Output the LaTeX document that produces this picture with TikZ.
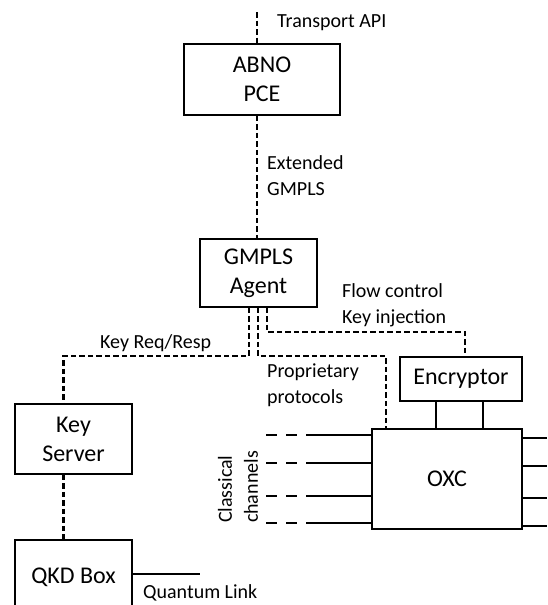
\documentclass[tikz,border=0pt]{standalone}
\usepackage{fontspec}
\setmainfont{Carlito}
\begin{document}
\begin{tikzpicture}[x=1pt,y=-1pt,
  box/.style={draw=black,line width=1.6pt,inner sep=0pt,align=center,
    font=\fontsize{24}{29}\selectfont},
  lbl/.style={inner sep=0pt,align=left,font=\fontsize{20}{26}\selectfont},
  dsh/.style={line width=2.7pt,dash pattern=on 5.5pt off 3pt},
  chd/.style={line width=2.7pt,dash pattern=on 11pt off 9pt},
  sol/.style={line width=2.7pt}]
\clip (0,0) rectangle (547,605);
\fill[white] (0,0) rectangle (547,605);
% boxes
\node[box,minimum width=156pt,minimum height=71pt] (abno) at (262,79.5) {ABNO\\PCE};
\node[box,minimum width=117pt,minimum height=68pt] (agent) at (258.5,273) {GMPLS\\Agent};
\node[box,minimum width=117pt,minimum height=70pt] (ks) at (73.5,439) {Key\\Server};
\node[box,minimum width=117pt,minimum height=75pt] (qkd) at (73.5,577.5) {QKD Box};
\node[box,minimum width=122pt,minimum height=44pt] (enc) at (461,379) {Encryptor};
\node[box,minimum width=150pt,minimum height=100pt] (oxc) at (447,479) {OXC};
% labels
\node[lbl,anchor=west] (tapi) at (277,23) {Transport API};
\node[lbl,anchor=west] (ext) at (267,175.5) {Extended\\GMPLS};
\node[lbl,anchor=west] (flow) at (342,305) {Flow control\\Key injection};
\node[lbl,anchor=west] (kreq) at (100,343) {Key Req/Resp};
\node[lbl,anchor=west] (prop) at (267,385.5) {Proprietary\\protocols};
\node[lbl,rotate=90] (cls) at (238,487) {Classical\\channels};
\node[lbl,anchor=west] (qlink) at (143,593) {Quantum Link};
% coordinates
\coordinate (top) at (257,12);
\coordinate (kr) at (63.5,356);
\coordinate (pp) at (386,356);
\coordinate (fk) at (465,332);
\coordinate (ql) at (200,574);
% dashed control links
\draw[dsh] (top) -- (top |- abno.north);
\draw[dsh] ([xshift=-1.5pt]agent.north |- abno.south) -- ([xshift=-1.5pt]agent.north);
\draw[dsh] ([xshift=-9.5pt]agent.south) |- (kr) -- (kr |- ks.north);
\draw[dsh] ([xshift=-0.5pt]agent.south) |- (pp) -- (pp |- oxc.north);
\draw[dsh] ([xshift=8.5pt]agent.south) |- (fk) -- (fk |- enc.north);
\draw[dsh] (kr |- ks.south) -- (kr |- qkd.north);
% encryptor to OXC
\draw[sol] ([xshift=-25pt]enc.south) -- ([xshift=-25pt]enc.south |- oxc.north);
\draw[sol] ([xshift=22pt]enc.south) -- ([xshift=22pt]enc.south |- oxc.north);
% quantum link
\draw[sol] (ql -| qkd.east) -- (ql);
% classical channels (left)
\foreach \n/\yy in {1/435,2/463,3/496,4/523}{
  \coordinate (cd\n) at (266,\yy);
  \coordinate (cs\n) at (307,\yy);
  \draw[chd] (cd\n) -- (cs\n);
  \draw[sol] (cs\n) -- (cs\n -| oxc.west);
}
% right outputs
\foreach \n/\yy in {1/438,2/466,3/498,4/526}{
  \coordinate (ro\n) at (547,\yy);
  \draw[sol] (ro\n -| oxc.east) -- (ro\n);
}
\end{tikzpicture}
\end{document}
